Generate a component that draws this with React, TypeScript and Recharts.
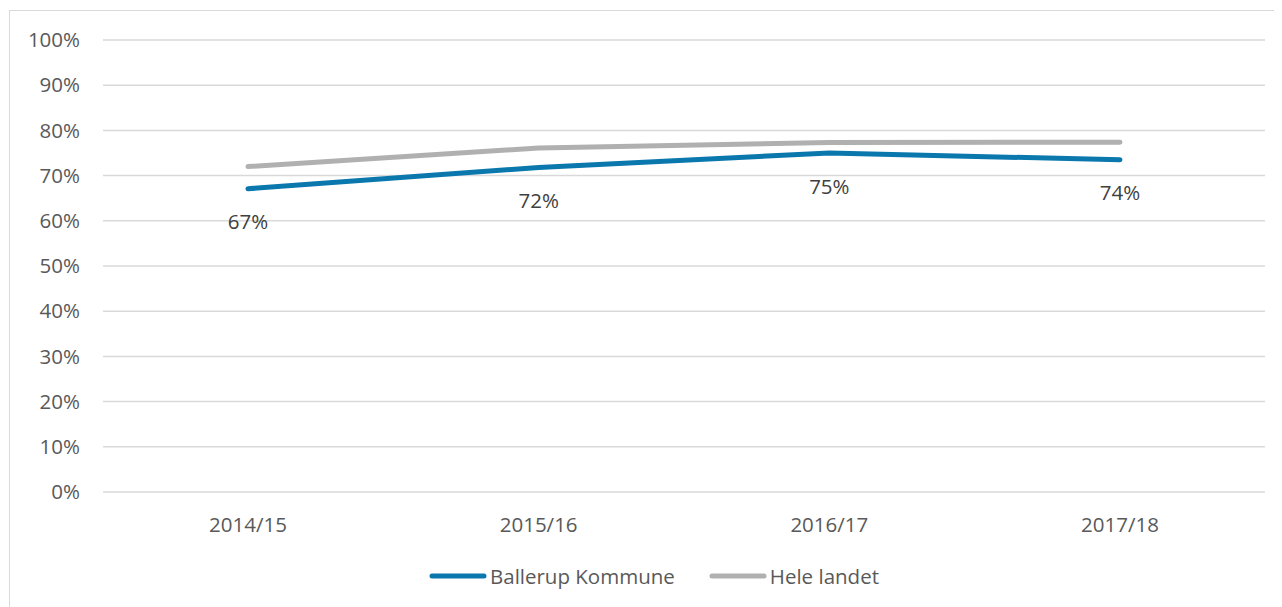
import React from "react";
import { LineChart, Line, XAxis, YAxis, CartesianGrid, Legend, LabelList } from "recharts";

const seasons = ["2014/15", "2015/16", "2016/17", "2017/18"];
const ballerup = [67.1, 71.8, 75.0, 73.5];
const heleLandet = [72.0, 76.1, 77.3, 77.4];
const yTicks = [0, 10, 20, 30, 40, 50, 60, 70, 80, 90, 100];

const BLUE = "#0a77ad";
const GRAY = "#b0b0b0";
const FONT = "'Open Sans', sans-serif";
const FS = 20.5;

const data = seasons.map((s, i) => ({ season: s, ballerup: ballerup[i], hele: heleLandet[i] }));

function LegendContent() {
  const items = [
    { label: "Ballerup Kommune", color: BLUE },
    { label: "Hele landet", color: GRAY },
  ];
  return (
    <div style={{ display: "flex", paddingLeft: 419, fontFamily: FONT, fontSize: FS, color: "#595959" }}>
      {items.map((it) => (
        <div key={it.label} style={{ display: "flex", alignItems: "center", marginRight: 34 }}>
          <svg width={58} height={10} style={{ marginRight: 3 }}>
            <line x1={3} y1={5} x2={55} y2={5} stroke={it.color} strokeWidth={5} strokeLinecap="round" />
          </svg>
          <span style={{ whiteSpace: "nowrap" }}>{it.label}</span>
        </div>
      ))}
    </div>
  );
}

export default function App() {
  return (
    <div style={{ marginLeft: 1, marginTop: 2, width: 1290, height: 600, borderTop: "1.5px solid #d9d9d9", borderLeft: "1.5px solid #d9d9d9", background: "#fff" }}>
      <LineChart width={1270} height={598} data={data} margin={{ top: 29, right: 15, bottom: 87, left: 0 }}>
        <CartesianGrid vertical={false} stroke="#d9d9d9" strokeWidth={1.5} />
        <XAxis
          dataKey="season"
          axisLine={false}
          tickLine={false}
          tickMargin={19}
          height={30}
          padding={{ left: 145, right: 145 }}
          tick={{ fill: "#595959", fontSize: FS, fontFamily: FONT }}
        />
        <YAxis
          domain={[0, 100]}
          ticks={yTicks}
          interval={0}
          width={93}
          axisLine={false}
          tickLine={false}
          tickMargin={17}
          tickFormatter={(v: number) => `${v}%`}
          tick={{ fill: "#595959", fontSize: FS, fontFamily: FONT }}
        />
        <Legend
          verticalAlign="middle"
          align="center"
          layout="horizontal"
          content={<LegendContent />}
          wrapperStyle={{ top: 551, left: 0, width: 1270 }}
        />
        <Line
          dataKey="ballerup"
          name="Ballerup Kommune"
          stroke={BLUE}
          strokeWidth={5}
          strokeLinecap="round"
          dot={false}
          isAnimationActive={false}
        >
          <LabelList
            dataKey="ballerup"
            position="bottom"
            offset={26}
            formatter={(v: number) => `${Math.round(v)}%`}
            style={{ fill: "#404040", fontSize: FS, fontFamily: FONT }}
          />
        </Line>
        <Line
          dataKey="hele"
          name="Hele landet"
          stroke={GRAY}
          strokeWidth={5}
          strokeLinecap="round"
          dot={false}
          isAnimationActive={false}
        />
      </LineChart>
    </div>
  );
}
